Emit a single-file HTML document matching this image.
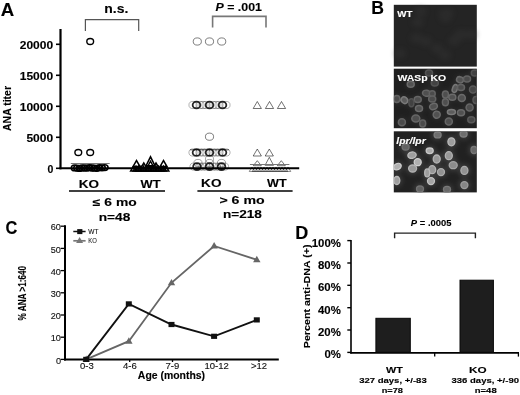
<!DOCTYPE html>
<html><head><meta charset="utf-8"><style>
html,body{margin:0;padding:0;background:#fff;}
body{width:520px;height:395px;overflow:hidden;}
svg{display:block;font-family:"Liberation Sans", sans-serif;filter:grayscale(1);}
</style></head><body>
<svg width="520" height="395" viewBox="0 0 520 395">
<rect width="520" height="395" fill="#fff"/>
<text transform="translate(0.80,15.70) scale(0.996,1)" font-size="18.7" fill="#000" stroke="#000" stroke-width="0.12" style="font-weight:bold;">A</text><line x1="60.5" y1="29" x2="60.5" y2="169.3" stroke="#000" stroke-width="2.2"/><line x1="56" y1="44.3" x2="60.5" y2="44.3" stroke="#000" stroke-width="1.6"/><text transform="translate(19.72,48.90) scale(1.200,1)" font-size="10" fill="#000" stroke="#000" stroke-width="0.12" style="font-weight:bold;">20000</text><line x1="56" y1="75.3" x2="60.5" y2="75.3" stroke="#000" stroke-width="1.6"/><text transform="translate(19.72,79.90) scale(1.200,1)" font-size="10" fill="#000" stroke="#000" stroke-width="0.12" style="font-weight:bold;">15000</text><line x1="56" y1="106.3" x2="60.5" y2="106.3" stroke="#000" stroke-width="1.6"/><text transform="translate(19.72,110.90) scale(1.200,1)" font-size="10" fill="#000" stroke="#000" stroke-width="0.12" style="font-weight:bold;">10000</text><line x1="56" y1="137.3" x2="60.5" y2="137.3" stroke="#000" stroke-width="1.6"/><text transform="translate(26.38,141.90) scale(1.200,1)" font-size="10" fill="#000" stroke="#000" stroke-width="0.12" style="font-weight:bold;">5000</text><line x1="56" y1="168.3" x2="60.5" y2="168.3" stroke="#000" stroke-width="1.6"/><text transform="translate(47.48,172.70) scale(1.053,1)" font-size="10" fill="#000" stroke="#000" stroke-width="0.12" style="font-weight:bold;">0</text><text transform="translate(10.70,130.99) rotate(-90) scale(0.953,1.050)" font-size="11" fill="#000" stroke="#000" stroke-width="0.12" style="font-weight:bold;">ANA titer</text><line x1="59.5" y1="168.3" x2="299.2" y2="168.3" stroke="#000" stroke-width="2"/><path d="M85.4,31 V19.6 H138.7 V31" stroke="#555" stroke-width="1.2" fill="none" /><path d="M212.6,27.6 V16.4 H266 V27.6" stroke="#777" stroke-width="1.6" fill="none" /><text transform="translate(104.29,13.00) scale(1.075,1)" font-size="13" fill="#000" stroke="#000" stroke-width="0.12" style="font-weight:bold;">n.s.</text><text transform="translate(215.49,10.50) scale(1.049,1)" font-size="11.8" fill="#000" stroke="#000" stroke-width="0.12" style=""><tspan style="font-weight:bold;font-style:italic;">P</tspan><tspan style="font-weight:bold;"> = .001</tspan></text><text transform="translate(78.70,187.60) scale(1.205,1)" font-size="11.2" fill="#000" stroke="#000" stroke-width="0.12" style="font-weight:bold;">KO</text><text transform="translate(140.60,187.60) scale(1.156,1)" font-size="11.2" fill="#000" stroke="#000" stroke-width="0.12" style="font-weight:bold;">WT</text><text transform="translate(201.09,187.20) scale(1.212,1)" font-size="11.2" fill="#000" stroke="#000" stroke-width="0.12" style="font-weight:bold;">KO</text><text transform="translate(267.00,187.20) scale(1.127,1)" font-size="11.2" fill="#000" stroke="#000" stroke-width="0.12" style="font-weight:bold;">WT</text><line x1="69" y1="191.1" x2="165" y2="191.1" stroke="#000" stroke-width="1.5"/><line x1="197.4" y1="191.0" x2="292.6" y2="191.0" stroke="#000" stroke-width="1.5"/><text transform="translate(92.87,206.00) scale(1.309,1)" font-size="10.6" fill="#000" stroke="#000" stroke-width="0.12" style="font-weight:bold;">≤ 6 mo</text><text transform="translate(98.69,220.60) scale(1.295,1)" font-size="10.6" fill="#000" stroke="#000" stroke-width="0.12" style="font-weight:bold;">n=48</text><text transform="translate(219.40,204.30) scale(1.336,1)" font-size="10.6" fill="#000" stroke="#000" stroke-width="0.12" style="font-weight:bold;">&gt; 6 mo</text><text transform="translate(222.90,218.10) scale(1.287,1)" font-size="10.6" fill="#000" stroke="#000" stroke-width="0.12" style="font-weight:bold;">n=218</text><ellipse cx="90.20" cy="41.50" rx="3.39" ry="3.0" stroke="#000" stroke-width="1.4" fill="none" stroke-opacity="1"/><ellipse cx="78.30" cy="152.50" rx="3.39" ry="3.0" stroke="#000" stroke-width="1.4" fill="none" stroke-opacity="1"/><ellipse cx="90.20" cy="152.50" rx="3.39" ry="3.0" stroke="#000" stroke-width="1.4" fill="none" stroke-opacity="1"/><line x1="70.8" y1="163.5" x2="109.7" y2="163.5" stroke="#777" stroke-width="1"/><ellipse cx="74.60" cy="167.95" rx="3.28" ry="2.9" stroke="#000" stroke-width="1.5" fill="none" stroke-opacity="1"/><ellipse cx="77.00" cy="168.06" rx="3.28" ry="2.9" stroke="#000" stroke-width="1.5" fill="none" stroke-opacity="1"/><ellipse cx="79.50" cy="168.42" rx="3.28" ry="2.9" stroke="#000" stroke-width="1.5" fill="none" stroke-opacity="1"/><ellipse cx="82.00" cy="167.97" rx="3.28" ry="2.9" stroke="#000" stroke-width="1.5" fill="none" stroke-opacity="1"/><ellipse cx="84.50" cy="168.01" rx="3.28" ry="2.9" stroke="#000" stroke-width="1.5" fill="none" stroke-opacity="1"/><ellipse cx="87.00" cy="168.09" rx="3.28" ry="2.9" stroke="#000" stroke-width="1.5" fill="none" stroke-opacity="1"/><ellipse cx="89.50" cy="167.68" rx="3.28" ry="2.9" stroke="#000" stroke-width="1.5" fill="none" stroke-opacity="1"/><ellipse cx="92.00" cy="168.01" rx="3.28" ry="2.9" stroke="#000" stroke-width="1.5" fill="none" stroke-opacity="1"/><ellipse cx="94.50" cy="168.13" rx="3.28" ry="2.9" stroke="#000" stroke-width="1.5" fill="none" stroke-opacity="1"/><ellipse cx="97.00" cy="168.29" rx="3.28" ry="2.9" stroke="#000" stroke-width="1.5" fill="none" stroke-opacity="1"/><ellipse cx="99.50" cy="167.59" rx="3.28" ry="2.9" stroke="#000" stroke-width="1.5" fill="none" stroke-opacity="1"/><ellipse cx="102.00" cy="167.80" rx="3.28" ry="2.9" stroke="#000" stroke-width="1.5" fill="none" stroke-opacity="1"/><ellipse cx="104.80" cy="167.59" rx="3.28" ry="2.9" stroke="#000" stroke-width="1.5" fill="none" stroke-opacity="1"/><path d="M133.00,166.60 L136.50,160.60 L140.00,166.60 Z" stroke="#000" stroke-width="1.5" fill="none" stroke-opacity="1" stroke-linejoin="miter"/><path d="M146.00,165.80 L150.50,156.80 L155.00,165.80 Z" stroke="#000" stroke-width="1.5" fill="none" stroke-opacity="1" stroke-linejoin="miter"/><path d="M160.00,166.60 L163.50,160.60 L167.00,166.60 Z" stroke="#000" stroke-width="1.5" fill="none" stroke-opacity="1" stroke-linejoin="miter"/><path d="M140.80,168.00 L143.80,163.00 L146.80,168.00 Z" stroke="#000" stroke-width="1.5" fill="none" stroke-opacity="1" stroke-linejoin="miter"/><path d="M153.00,168.00 L156.00,163.00 L159.00,168.00 Z" stroke="#000" stroke-width="1.5" fill="none" stroke-opacity="1" stroke-linejoin="miter"/><path d="M147.50,166.75 L150.50,161.25 L153.50,166.75 Z" stroke="#000" stroke-width="1.5" fill="none" stroke-opacity="1" stroke-linejoin="miter"/><path d="M130.70,170.90 L133.50,166.30 L136.30,170.90 Z" stroke="#000" stroke-width="1.5" fill="none" stroke-opacity="1" stroke-linejoin="miter"/><path d="M133.20,170.90 L136.00,166.30 L138.80,170.90 Z" stroke="#000" stroke-width="1.5" fill="none" stroke-opacity="1" stroke-linejoin="miter"/><path d="M135.70,170.90 L138.50,166.30 L141.30,170.90 Z" stroke="#000" stroke-width="1.5" fill="none" stroke-opacity="1" stroke-linejoin="miter"/><path d="M138.20,170.90 L141.00,166.30 L143.80,170.90 Z" stroke="#000" stroke-width="1.5" fill="none" stroke-opacity="1" stroke-linejoin="miter"/><path d="M140.70,170.90 L143.50,166.30 L146.30,170.90 Z" stroke="#000" stroke-width="1.5" fill="none" stroke-opacity="1" stroke-linejoin="miter"/><path d="M143.20,170.90 L146.00,166.30 L148.80,170.90 Z" stroke="#000" stroke-width="1.5" fill="none" stroke-opacity="1" stroke-linejoin="miter"/><path d="M145.70,170.90 L148.50,166.30 L151.30,170.90 Z" stroke="#000" stroke-width="1.5" fill="none" stroke-opacity="1" stroke-linejoin="miter"/><path d="M148.20,170.90 L151.00,166.30 L153.80,170.90 Z" stroke="#000" stroke-width="1.5" fill="none" stroke-opacity="1" stroke-linejoin="miter"/><path d="M150.70,170.90 L153.50,166.30 L156.30,170.90 Z" stroke="#000" stroke-width="1.5" fill="none" stroke-opacity="1" stroke-linejoin="miter"/><path d="M153.20,170.90 L156.00,166.30 L158.80,170.90 Z" stroke="#000" stroke-width="1.5" fill="none" stroke-opacity="1" stroke-linejoin="miter"/><path d="M155.70,170.90 L158.50,166.30 L161.30,170.90 Z" stroke="#000" stroke-width="1.5" fill="none" stroke-opacity="1" stroke-linejoin="miter"/><path d="M158.20,170.90 L161.00,166.30 L163.80,170.90 Z" stroke="#000" stroke-width="1.5" fill="none" stroke-opacity="1" stroke-linejoin="miter"/><path d="M160.70,170.90 L163.50,166.30 L166.30,170.90 Z" stroke="#000" stroke-width="1.5" fill="none" stroke-opacity="1" stroke-linejoin="miter"/><path d="M163.20,170.90 L166.00,166.30 L168.80,170.90 Z" stroke="#000" stroke-width="1.5" fill="none" stroke-opacity="1" stroke-linejoin="miter"/><ellipse cx="197.30" cy="41.50" rx="4.07" ry="3.6" stroke="#000" stroke-width="1.0" fill="none" stroke-opacity="0.5"/><ellipse cx="209.50" cy="41.50" rx="4.07" ry="3.6" stroke="#000" stroke-width="1.0" fill="none" stroke-opacity="0.5"/><ellipse cx="221.70" cy="41.50" rx="4.07" ry="3.6" stroke="#000" stroke-width="1.0" fill="none" stroke-opacity="0.5"/><ellipse cx="193.00" cy="105.00" rx="4.07" ry="3.6" stroke="#000" stroke-width="1.0" fill="none" stroke-opacity="0.3"/><ellipse cx="200.00" cy="105.00" rx="4.07" ry="3.6" stroke="#000" stroke-width="1.0" fill="none" stroke-opacity="0.3"/><ellipse cx="203.00" cy="105.00" rx="4.07" ry="3.6" stroke="#000" stroke-width="1.0" fill="none" stroke-opacity="0.3"/><ellipse cx="206.00" cy="105.00" rx="4.07" ry="3.6" stroke="#000" stroke-width="1.0" fill="none" stroke-opacity="0.3"/><ellipse cx="213.00" cy="105.00" rx="4.07" ry="3.6" stroke="#000" stroke-width="1.0" fill="none" stroke-opacity="0.3"/><ellipse cx="216.00" cy="105.00" rx="4.07" ry="3.6" stroke="#000" stroke-width="1.0" fill="none" stroke-opacity="0.3"/><ellipse cx="219.00" cy="105.00" rx="4.07" ry="3.6" stroke="#000" stroke-width="1.0" fill="none" stroke-opacity="0.3"/><ellipse cx="226.00" cy="105.00" rx="4.07" ry="3.6" stroke="#000" stroke-width="1.0" fill="none" stroke-opacity="0.3"/><ellipse cx="196.50" cy="105.00" rx="3.84" ry="3.4" stroke="#000" stroke-width="1.8" fill="none" stroke-opacity="0.85"/><ellipse cx="209.50" cy="105.00" rx="3.84" ry="3.4" stroke="#000" stroke-width="1.8" fill="none" stroke-opacity="0.85"/><ellipse cx="222.50" cy="105.00" rx="3.84" ry="3.4" stroke="#000" stroke-width="1.8" fill="none" stroke-opacity="0.85"/><ellipse cx="209.50" cy="136.70" rx="4.07" ry="3.6" stroke="#000" stroke-width="1.0" fill="none" stroke-opacity="0.5"/><line x1="190" y1="149.8" x2="229" y2="149.8" stroke="#999" stroke-width="1.6"/><ellipse cx="193.00" cy="152.50" rx="4.07" ry="3.6" stroke="#000" stroke-width="1.0" fill="none" stroke-opacity="0.3"/><ellipse cx="200.00" cy="152.50" rx="4.07" ry="3.6" stroke="#000" stroke-width="1.0" fill="none" stroke-opacity="0.3"/><ellipse cx="203.00" cy="152.50" rx="4.07" ry="3.6" stroke="#000" stroke-width="1.0" fill="none" stroke-opacity="0.3"/><ellipse cx="206.00" cy="152.50" rx="4.07" ry="3.6" stroke="#000" stroke-width="1.0" fill="none" stroke-opacity="0.3"/><ellipse cx="213.00" cy="152.50" rx="4.07" ry="3.6" stroke="#000" stroke-width="1.0" fill="none" stroke-opacity="0.3"/><ellipse cx="216.00" cy="152.50" rx="4.07" ry="3.6" stroke="#000" stroke-width="1.0" fill="none" stroke-opacity="0.3"/><ellipse cx="219.00" cy="152.50" rx="4.07" ry="3.6" stroke="#000" stroke-width="1.0" fill="none" stroke-opacity="0.3"/><ellipse cx="226.00" cy="152.50" rx="4.07" ry="3.6" stroke="#000" stroke-width="1.0" fill="none" stroke-opacity="0.3"/><ellipse cx="196.50" cy="152.50" rx="3.84" ry="3.4" stroke="#000" stroke-width="1.8" fill="none" stroke-opacity="0.85"/><ellipse cx="209.50" cy="152.50" rx="3.84" ry="3.4" stroke="#000" stroke-width="1.8" fill="none" stroke-opacity="0.85"/><ellipse cx="222.50" cy="152.50" rx="3.84" ry="3.4" stroke="#000" stroke-width="1.8" fill="none" stroke-opacity="0.85"/><ellipse cx="209.50" cy="159.20" rx="4.07" ry="3.6" stroke="#000" stroke-width="1.0" fill="none" stroke-opacity="0.35"/><ellipse cx="198.00" cy="163.00" rx="4.07" ry="3.6" stroke="#000" stroke-width="1.0" fill="none" stroke-opacity="0.35"/><ellipse cx="209.50" cy="163.00" rx="4.07" ry="3.6" stroke="#000" stroke-width="1.0" fill="none" stroke-opacity="0.35"/><ellipse cx="221.50" cy="163.00" rx="4.07" ry="3.6" stroke="#000" stroke-width="1.0" fill="none" stroke-opacity="0.35"/><ellipse cx="194.00" cy="166.60" rx="4.07" ry="3.6" stroke="#000" stroke-width="1.0" fill="none" stroke-opacity="0.3"/><ellipse cx="200.00" cy="166.60" rx="4.07" ry="3.6" stroke="#000" stroke-width="1.0" fill="none" stroke-opacity="0.3"/><ellipse cx="203.00" cy="166.60" rx="4.07" ry="3.6" stroke="#000" stroke-width="1.0" fill="none" stroke-opacity="0.3"/><ellipse cx="206.00" cy="166.60" rx="4.07" ry="3.6" stroke="#000" stroke-width="1.0" fill="none" stroke-opacity="0.3"/><ellipse cx="213.00" cy="166.60" rx="4.07" ry="3.6" stroke="#000" stroke-width="1.0" fill="none" stroke-opacity="0.3"/><ellipse cx="216.00" cy="166.60" rx="4.07" ry="3.6" stroke="#000" stroke-width="1.0" fill="none" stroke-opacity="0.3"/><ellipse cx="219.00" cy="166.60" rx="4.07" ry="3.6" stroke="#000" stroke-width="1.0" fill="none" stroke-opacity="0.3"/><ellipse cx="224.50" cy="166.60" rx="4.07" ry="3.6" stroke="#000" stroke-width="1.0" fill="none" stroke-opacity="0.3"/><ellipse cx="197.00" cy="166.60" rx="3.84" ry="3.4" stroke="#000" stroke-width="1.8" fill="none" stroke-opacity="0.85"/><ellipse cx="209.50" cy="166.60" rx="3.84" ry="3.4" stroke="#000" stroke-width="1.8" fill="none" stroke-opacity="0.85"/><ellipse cx="221.50" cy="166.60" rx="3.84" ry="3.4" stroke="#000" stroke-width="1.8" fill="none" stroke-opacity="0.85"/><path d="M253.20,108.50 L257.30,101.50 L261.40,108.50 Z" stroke="#000" stroke-width="1.0" fill="none" stroke-opacity="0.55" stroke-linejoin="miter"/><path d="M265.40,108.50 L269.50,101.50 L273.60,108.50 Z" stroke="#000" stroke-width="1.0" fill="none" stroke-opacity="0.55" stroke-linejoin="miter"/><path d="M277.40,108.50 L281.50,101.50 L285.60,108.50 Z" stroke="#000" stroke-width="1.0" fill="none" stroke-opacity="0.55" stroke-linejoin="miter"/><path d="M253.20,156.00 L257.30,149.00 L261.40,156.00 Z" stroke="#000" stroke-width="1.0" fill="none" stroke-opacity="0.55" stroke-linejoin="miter"/><path d="M265.20,156.00 L269.30,149.00 L273.40,156.00 Z" stroke="#000" stroke-width="1.0" fill="none" stroke-opacity="0.55" stroke-linejoin="miter"/><path d="M265.05,165.30 L269.30,157.30 L273.55,165.30 Z" stroke="#000" stroke-width="1.0" fill="none" stroke-opacity="0.55" stroke-linejoin="miter"/><path d="M253.30,165.70 L257.30,160.70 L261.30,165.70 Z" stroke="#000" stroke-width="1.0" fill="none" stroke-opacity="0.55" stroke-linejoin="miter"/><path d="M277.30,165.70 L281.30,160.70 L285.30,165.70 Z" stroke="#000" stroke-width="1.0" fill="none" stroke-opacity="0.55" stroke-linejoin="miter"/><line x1="249.9" y1="164.5" x2="289.4" y2="164.5" stroke="#777" stroke-width="1"/><path d="M249.25,171.45 L252.00,166.95 L254.75,171.45 Z" stroke="#000" stroke-width="1.0" fill="none" stroke-opacity="0.45" stroke-linejoin="miter"/><path d="M252.25,171.45 L255.00,166.95 L257.75,171.45 Z" stroke="#000" stroke-width="1.0" fill="none" stroke-opacity="0.45" stroke-linejoin="miter"/><path d="M255.25,171.45 L258.00,166.95 L260.75,171.45 Z" stroke="#000" stroke-width="1.0" fill="none" stroke-opacity="0.45" stroke-linejoin="miter"/><path d="M258.25,171.45 L261.00,166.95 L263.75,171.45 Z" stroke="#000" stroke-width="1.0" fill="none" stroke-opacity="0.45" stroke-linejoin="miter"/><path d="M261.25,171.45 L264.00,166.95 L266.75,171.45 Z" stroke="#000" stroke-width="1.0" fill="none" stroke-opacity="0.45" stroke-linejoin="miter"/><path d="M264.25,171.45 L267.00,166.95 L269.75,171.45 Z" stroke="#000" stroke-width="1.0" fill="none" stroke-opacity="0.45" stroke-linejoin="miter"/><path d="M267.25,171.45 L270.00,166.95 L272.75,171.45 Z" stroke="#000" stroke-width="1.0" fill="none" stroke-opacity="0.45" stroke-linejoin="miter"/><path d="M270.25,171.45 L273.00,166.95 L275.75,171.45 Z" stroke="#000" stroke-width="1.0" fill="none" stroke-opacity="0.45" stroke-linejoin="miter"/><path d="M273.25,171.45 L276.00,166.95 L278.75,171.45 Z" stroke="#000" stroke-width="1.0" fill="none" stroke-opacity="0.45" stroke-linejoin="miter"/><path d="M276.25,171.45 L279.00,166.95 L281.75,171.45 Z" stroke="#000" stroke-width="1.0" fill="none" stroke-opacity="0.45" stroke-linejoin="miter"/><path d="M279.25,171.45 L282.00,166.95 L284.75,171.45 Z" stroke="#000" stroke-width="1.0" fill="none" stroke-opacity="0.45" stroke-linejoin="miter"/><path d="M282.25,171.45 L285.00,166.95 L287.75,171.45 Z" stroke="#000" stroke-width="1.0" fill="none" stroke-opacity="0.45" stroke-linejoin="miter"/><path d="M285.25,171.45 L288.00,166.95 L290.75,171.45 Z" stroke="#000" stroke-width="1.0" fill="none" stroke-opacity="0.45" stroke-linejoin="miter"/><text transform="translate(371.14,14.40) scale(0.964,1)" font-size="18.3" fill="#000" stroke="#000" stroke-width="0.12" style="font-weight:bold;">B</text><defs>
<filter id="bl" x="-50%" y="-50%" width="200%" height="200%"><feGaussianBlur stdDeviation="0.75"/></filter>
<filter id="bl2" x="-50%" y="-50%" width="200%" height="200%"><feGaussianBlur stdDeviation="2.5"/></filter>
<radialGradient id="ko"><stop offset="0" stop-color="#5a5a5a"/><stop offset="0.6" stop-color="#6a6a6a"/><stop offset="1" stop-color="#7a7a7a"/></radialGradient>
<radialGradient id="lp"><stop offset="0" stop-color="#b0b0b0"/><stop offset="1" stop-color="#9a9a9a"/></radialGradient>
</defs><rect x="393.8" y="4.8" width="83.0" height="61.8" fill="#242424"/><rect x="393.8" y="68.7" width="83.0" height="59.5" fill="#1f1f1f"/><rect x="393.8" y="131.3" width="83.0" height="61.1" fill="#212121"/><g filter="url(#bl2)" opacity="0.3"><ellipse cx="416.2" cy="38.3" rx="6" ry="5" fill="#3a3a3a"/><ellipse cx="425.8" cy="41.4" rx="6" ry="5" fill="#3a3a3a"/><ellipse cx="444.5" cy="13.4" rx="6" ry="5" fill="#3a3a3a"/><ellipse cx="399.8" cy="53.5" rx="6" ry="5" fill="#3a3a3a"/><ellipse cx="417.7" cy="22.2" rx="6" ry="5" fill="#3a3a3a"/><ellipse cx="471.5" cy="34.5" rx="6" ry="5" fill="#3a3a3a"/><ellipse cx="459.9" cy="34.8" rx="6" ry="5" fill="#3a3a3a"/><ellipse cx="445.5" cy="17.8" rx="6" ry="5" fill="#3a3a3a"/><ellipse cx="445.1" cy="55.1" rx="6" ry="5" fill="#3a3a3a"/><ellipse cx="437.0" cy="48.5" rx="6" ry="5" fill="#3a3a3a"/><ellipse cx="447.8" cy="13.3" rx="6" ry="5" fill="#3a3a3a"/><ellipse cx="454.2" cy="40.7" rx="6" ry="5" fill="#3a3a3a"/><ellipse cx="420.8" cy="11.6" rx="6" ry="5" fill="#3a3a3a"/><ellipse cx="462.0" cy="34.6" rx="6" ry="5" fill="#3a3a3a"/></g><svg x="393.8" y="68.7" width="83.0" height="59.499999999999986" viewBox="393.8 68.7 83.0 59.499999999999986" overflow="hidden"><g filter="url(#bl2)" opacity="0.35"><ellipse cx="410.7" cy="84.3" rx="5.5" ry="5.0" fill="#444"/><ellipse cx="429" cy="73" rx="5.5" ry="5.0" fill="#444"/><ellipse cx="434.8" cy="83" rx="5.5" ry="5.0" fill="#444"/><ellipse cx="460" cy="79.8" rx="5.5" ry="5.0" fill="#444"/><ellipse cx="467" cy="79" rx="5.5" ry="5.0" fill="#444"/><ellipse cx="474.8" cy="73" rx="5.5" ry="5.0" fill="#444"/><ellipse cx="455" cy="88.5" rx="4.5" ry="6.0" fill="#444"/><ellipse cx="461" cy="87.6" rx="5.5" ry="5.0" fill="#444"/><ellipse cx="473" cy="89.4" rx="5.5" ry="5.5" fill="#444"/><ellipse cx="426.5" cy="93.2" rx="6.0" ry="5.0" fill="#444"/><ellipse cx="432.2" cy="93.8" rx="5.0" ry="5.0" fill="#444"/><ellipse cx="445.4" cy="94.6" rx="5.0" ry="5.5" fill="#444"/><ellipse cx="452.3" cy="97.2" rx="5.5" ry="5.0" fill="#444"/><ellipse cx="461.8" cy="98" rx="5.5" ry="5.5" fill="#444"/><ellipse cx="396.8" cy="98.9" rx="5.0" ry="5.5" fill="#444"/><ellipse cx="404.4" cy="100.2" rx="5.5" ry="5.0" fill="#444"/><ellipse cx="417.7" cy="99.5" rx="5.5" ry="5.0" fill="#444"/><ellipse cx="432.2" cy="98.9" rx="5.5" ry="5.0" fill="#444"/><ellipse cx="445.4" cy="102.3" rx="5.0" ry="5.5" fill="#444"/><ellipse cx="411.4" cy="102.7" rx="4.5" ry="6.0" fill="#444"/><ellipse cx="419" cy="108.4" rx="5.5" ry="5.0" fill="#444"/><ellipse cx="433.5" cy="106.5" rx="6.0" ry="5.0" fill="#444"/><ellipse cx="451.4" cy="111.9" rx="6.0" ry="4.5" fill="#444"/><ellipse cx="461" cy="112.7" rx="5.5" ry="5.0" fill="#444"/><ellipse cx="469.6" cy="107.5" rx="5.5" ry="5.5" fill="#444"/><ellipse cx="436.7" cy="114.7" rx="5.5" ry="5.5" fill="#444"/><ellipse cx="415.8" cy="118.5" rx="6.0" ry="5.5" fill="#444"/><ellipse cx="401.9" cy="122.3" rx="5.5" ry="5.5" fill="#444"/><ellipse cx="422.7" cy="123.6" rx="5.0" ry="5.5" fill="#444"/><ellipse cx="448.8" cy="121.4" rx="5.5" ry="5.5" fill="#444"/><ellipse cx="471.3" cy="119.7" rx="5.5" ry="5.0" fill="#444"/><ellipse cx="476" cy="100" rx="5.0" ry="5.5" fill="#444"/></g><g filter="url(#bl)"><ellipse cx="410.7" cy="84.3" rx="3.5" ry="3.0" transform="rotate(0 410.7 84.3)" fill="#515151" stroke="#6a6a6a" stroke-width="1.5"/><ellipse cx="429" cy="73" rx="3.5" ry="3.0" transform="rotate(0 429 73)" fill="#424242" stroke="#535353" stroke-width="1.5"/><ellipse cx="434.8" cy="83" rx="3.5" ry="3.0" transform="rotate(0 434.8 83)" fill="#424242" stroke="#535353" stroke-width="1.5"/><ellipse cx="460" cy="79.8" rx="3.5" ry="3.0" transform="rotate(20 460 79.8)" fill="#515151" stroke="#6a6a6a" stroke-width="1.5"/><ellipse cx="467" cy="79" rx="3.5" ry="3.0" transform="rotate(0 467 79)" fill="#4c4c4c" stroke="#626262" stroke-width="1.5"/><ellipse cx="474.8" cy="73" rx="3.5" ry="3.0" transform="rotate(0 474.8 73)" fill="#424242" stroke="#535353" stroke-width="1.5"/><ellipse cx="455" cy="88.5" rx="2.5" ry="4.0" transform="rotate(20 455 88.5)" fill="#595959" stroke="#767676" stroke-width="1.5"/><ellipse cx="461" cy="87.6" rx="3.5" ry="3.0" transform="rotate(0 461 87.6)" fill="#4c4c4c" stroke="#626262" stroke-width="1.5"/><ellipse cx="473" cy="89.4" rx="3.5" ry="3.5" transform="rotate(0 473 89.4)" fill="#474747" stroke="#5a5a5a" stroke-width="1.5"/><ellipse cx="426.5" cy="93.2" rx="4.0" ry="3.0" transform="rotate(10 426.5 93.2)" fill="#4f4f4f" stroke="#666666" stroke-width="1.5"/><ellipse cx="432.2" cy="93.8" rx="3.0" ry="3.0" transform="rotate(0 432.2 93.8)" fill="#4c4c4c" stroke="#626262" stroke-width="1.5"/><ellipse cx="445.4" cy="94.6" rx="3.0" ry="3.5" transform="rotate(0 445.4 94.6)" fill="#4f4f4f" stroke="#666666" stroke-width="1.5"/><ellipse cx="452.3" cy="97.2" rx="3.5" ry="3.0" transform="rotate(0 452.3 97.2)" fill="#515151" stroke="#6a6a6a" stroke-width="1.5"/><ellipse cx="461.8" cy="98" rx="3.5" ry="3.5" transform="rotate(0 461.8 98)" fill="#515151" stroke="#6a6a6a" stroke-width="1.5"/><ellipse cx="396.8" cy="98.9" rx="3.0" ry="3.5" transform="rotate(0 396.8 98.9)" fill="#4c4c4c" stroke="#626262" stroke-width="1.5"/><ellipse cx="404.4" cy="100.2" rx="3.5" ry="3.0" transform="rotate(40 404.4 100.2)" fill="#5c5c5c" stroke="#7a7a7a" stroke-width="1.5"/><ellipse cx="417.7" cy="99.5" rx="3.5" ry="3.0" transform="rotate(0 417.7 99.5)" fill="#4f4f4f" stroke="#666666" stroke-width="1.5"/><ellipse cx="432.2" cy="98.9" rx="3.5" ry="3.0" transform="rotate(0 432.2 98.9)" fill="#4c4c4c" stroke="#626262" stroke-width="1.5"/><ellipse cx="445.4" cy="102.3" rx="3.0" ry="3.5" transform="rotate(0 445.4 102.3)" fill="#4f4f4f" stroke="#666666" stroke-width="1.5"/><ellipse cx="411.4" cy="102.7" rx="2.5" ry="4.0" transform="rotate(0 411.4 102.7)" fill="#424242" stroke="#535353" stroke-width="1.5"/><ellipse cx="419" cy="108.4" rx="3.5" ry="3.0" transform="rotate(0 419 108.4)" fill="#515151" stroke="#6a6a6a" stroke-width="1.5"/><ellipse cx="433.5" cy="106.5" rx="4.0" ry="3.0" transform="rotate(-20 433.5 106.5)" fill="#515151" stroke="#6a6a6a" stroke-width="1.5"/><ellipse cx="451.4" cy="111.9" rx="4.0" ry="2.5" transform="rotate(0 451.4 111.9)" fill="#5c5c5c" stroke="#7a7a7a" stroke-width="1.5"/><ellipse cx="461" cy="112.7" rx="3.5" ry="3.0" transform="rotate(0 461 112.7)" fill="#515151" stroke="#6a6a6a" stroke-width="1.5"/><ellipse cx="469.6" cy="107.5" rx="3.5" ry="3.5" transform="rotate(0 469.6 107.5)" fill="#4f4f4f" stroke="#666666" stroke-width="1.5"/><ellipse cx="436.7" cy="114.7" rx="3.5" ry="3.5" transform="rotate(30 436.7 114.7)" fill="#515151" stroke="#6a6a6a" stroke-width="1.5"/><ellipse cx="415.8" cy="118.5" rx="4.0" ry="3.5" transform="rotate(0 415.8 118.5)" fill="#4f4f4f" stroke="#666666" stroke-width="1.5"/><ellipse cx="401.9" cy="122.3" rx="3.5" ry="3.5" transform="rotate(0 401.9 122.3)" fill="#4c4c4c" stroke="#626262" stroke-width="1.5"/><ellipse cx="422.7" cy="123.6" rx="3.0" ry="3.5" transform="rotate(0 422.7 123.6)" fill="#4c4c4c" stroke="#626262" stroke-width="1.5"/><ellipse cx="448.8" cy="121.4" rx="3.5" ry="3.5" transform="rotate(0 448.8 121.4)" fill="#4f4f4f" stroke="#666666" stroke-width="1.5"/><ellipse cx="471.3" cy="119.7" rx="3.5" ry="3.0" transform="rotate(0 471.3 119.7)" fill="#474747" stroke="#5a5a5a" stroke-width="1.5"/><ellipse cx="476" cy="100" rx="3.0" ry="3.5" transform="rotate(0 476 100)" fill="#474747" stroke="#5a5a5a" stroke-width="1.5"/></g></svg><svg x="393.8" y="131.3" width="83.0" height="61.099999999999994" viewBox="393.8 131.3 83.0 61.099999999999994" overflow="hidden"><g filter="url(#bl2)" opacity="0.55"><ellipse cx="437.6" cy="134.9" rx="6.0" ry="5.5" fill="#555"/><ellipse cx="463.6" cy="134" rx="6.0" ry="5.5" fill="#555"/><ellipse cx="451.4" cy="141.8" rx="6.0" ry="6.5" fill="#555"/><ellipse cx="429.7" cy="150.8" rx="6.0" ry="5.2" fill="#555"/><ellipse cx="412" cy="155.2" rx="6.8" ry="5.8" fill="#555"/><ellipse cx="448.8" cy="155.7" rx="6.0" ry="6.5" fill="#555"/><ellipse cx="436.7" cy="159" rx="6.0" ry="6.5" fill="#555"/><ellipse cx="417.7" cy="162.2" rx="6.0" ry="6.0" fill="#555"/><ellipse cx="397.4" cy="166.6" rx="6.5" ry="5.5" fill="#555"/><ellipse cx="412.6" cy="168.5" rx="6.5" ry="6.0" fill="#555"/><ellipse cx="432.2" cy="169.7" rx="6.0" ry="6.5" fill="#555"/><ellipse cx="427.2" cy="172.9" rx="5.0" ry="6.5" fill="#555"/><ellipse cx="441" cy="172.1" rx="6.0" ry="6.0" fill="#555"/><ellipse cx="453.2" cy="165.2" rx="6.5" ry="6.0" fill="#555"/><ellipse cx="464.4" cy="170.4" rx="6.0" ry="6.5" fill="#555"/><ellipse cx="396.8" cy="180.5" rx="5.5" ry="6.5" fill="#555"/><ellipse cx="431" cy="181.1" rx="6.0" ry="6.0" fill="#555"/><ellipse cx="464.4" cy="185.1" rx="6.0" ry="6.0" fill="#555"/><ellipse cx="405.6" cy="147" rx="6.0" ry="5.5" fill="#555"/><ellipse cx="447" cy="189.4" rx="6.0" ry="5.5" fill="#555"/><ellipse cx="474" cy="150" rx="5.5" ry="6.0" fill="#555"/><ellipse cx="420" cy="189" rx="6.0" ry="5.5" fill="#555"/></g><g filter="url(#bl)"><ellipse cx="437.6" cy="134.9" rx="3.5" ry="3.0" transform="rotate(0 437.6 134.9)" fill="#6e6e6e" stroke="#808080" stroke-width="1.3"/><ellipse cx="463.6" cy="134" rx="3.5" ry="3.0" transform="rotate(0 463.6 134)" fill="#6e6e6e" stroke="#808080" stroke-width="1.3"/><ellipse cx="451.4" cy="141.8" rx="3.5" ry="4.0" transform="rotate(0 451.4 141.8)" fill="#9e9e9e" stroke="#bababa" stroke-width="1.3"/><ellipse cx="429.7" cy="150.8" rx="3.5" ry="2.8" transform="rotate(0 429.7 150.8)" fill="#aaaaaa" stroke="#c8c8c8" stroke-width="1.3"/><ellipse cx="412" cy="155.2" rx="4.2" ry="3.2" transform="rotate(-10 412 155.2)" fill="#9e9e9e" stroke="#bababa" stroke-width="1.3"/><ellipse cx="448.8" cy="155.7" rx="3.5" ry="4.0" transform="rotate(0 448.8 155.7)" fill="#989898" stroke="#b3b3b3" stroke-width="1.3"/><ellipse cx="436.7" cy="159" rx="3.5" ry="4.0" transform="rotate(0 436.7 159)" fill="#989898" stroke="#b3b3b3" stroke-width="1.3"/><ellipse cx="417.7" cy="162.2" rx="3.5" ry="3.5" transform="rotate(0 417.7 162.2)" fill="#b0b0b0" stroke="#d0d0d0" stroke-width="1.3"/><ellipse cx="397.4" cy="166.6" rx="4.0" ry="3.0" transform="rotate(-30 397.4 166.6)" fill="#b0b0b0" stroke="#d0d0d0" stroke-width="1.3"/><ellipse cx="412.6" cy="168.5" rx="4.0" ry="3.5" transform="rotate(0 412.6 168.5)" fill="#989898" stroke="#b3b3b3" stroke-width="1.3"/><ellipse cx="432.2" cy="169.7" rx="3.5" ry="4.0" transform="rotate(0 432.2 169.7)" fill="#989898" stroke="#b3b3b3" stroke-width="1.3"/><ellipse cx="427.2" cy="172.9" rx="2.5" ry="4.0" transform="rotate(0 427.2 172.9)" fill="#9e9e9e" stroke="#bababa" stroke-width="1.3"/><ellipse cx="441" cy="172.1" rx="3.5" ry="3.5" transform="rotate(0 441 172.1)" fill="#929292" stroke="#acacac" stroke-width="1.3"/><ellipse cx="453.2" cy="165.2" rx="4.0" ry="3.5" transform="rotate(0 453.2 165.2)" fill="#8c8c8c" stroke="#a4a4a4" stroke-width="1.3"/><ellipse cx="464.4" cy="170.4" rx="3.5" ry="4.0" transform="rotate(0 464.4 170.4)" fill="#929292" stroke="#acacac" stroke-width="1.3"/><ellipse cx="396.8" cy="180.5" rx="3.0" ry="4.0" transform="rotate(0 396.8 180.5)" fill="#9e9e9e" stroke="#bababa" stroke-width="1.3"/><ellipse cx="431" cy="181.1" rx="3.5" ry="3.5" transform="rotate(0 431 181.1)" fill="#a4a4a4" stroke="#c1c1c1" stroke-width="1.3"/><ellipse cx="464.4" cy="185.1" rx="3.5" ry="3.5" transform="rotate(0 464.4 185.1)" fill="#868686" stroke="#9d9d9d" stroke-width="1.3"/><ellipse cx="405.6" cy="147" rx="3.5" ry="3.0" transform="rotate(0 405.6 147)" fill="#626262" stroke="#727272" stroke-width="1.3"/><ellipse cx="447" cy="189.4" rx="3.5" ry="3.0" transform="rotate(0 447 189.4)" fill="#686868" stroke="#797979" stroke-width="1.3"/><ellipse cx="474" cy="150" rx="3.0" ry="3.5" transform="rotate(0 474 150)" fill="#686868" stroke="#797979" stroke-width="1.3"/><ellipse cx="420" cy="189" rx="3.5" ry="3.0" transform="rotate(0 420 189)" fill="#626262" stroke="#727272" stroke-width="1.3"/></g></svg><text transform="translate(397.20,16.60) scale(1.175,1)" font-size="8.3" fill="#fff" stroke="#fff" stroke-width="0.12" style="font-weight:bold;">WT</text><text transform="translate(397.40,80.80) scale(1.137,1)" font-size="9.2" fill="#fff" stroke="#fff" stroke-width="0.12" style="font-weight:bold;">WASp KO</text><text transform="translate(396.32,144.30) scale(1.177,1)" font-size="8.8" fill="#fff" stroke="#fff" stroke-width="0.12" style="font-weight:bold;font-style:italic;">lpr/lpr</text><text transform="translate(5.59,233.70) scale(0.884,1)" font-size="18.5" fill="#000" stroke="#000" stroke-width="0.12" style="font-weight:bold;">C</text><line x1="65" y1="225.2" x2="65" y2="360.4" stroke="#000" stroke-width="2"/><line x1="60.6" y1="359.4" x2="65" y2="359.4" stroke="#000" stroke-width="1.3"/><text transform="translate(55.88,363.50) scale(1.050,1)" font-size="8.7" fill="#111" stroke="#111" stroke-width="0.12" style="">0</text><line x1="60.6" y1="337.2" x2="65" y2="337.2" stroke="#000" stroke-width="1.3"/><text transform="translate(50.78,341.30) scale(1.050,1)" font-size="8.7" fill="#111" stroke="#111" stroke-width="0.12" style="">10</text><line x1="60.6" y1="315.0" x2="65" y2="315.0" stroke="#000" stroke-width="1.3"/><text transform="translate(50.78,319.10) scale(1.050,1)" font-size="8.7" fill="#111" stroke="#111" stroke-width="0.12" style="">20</text><line x1="60.6" y1="292.8" x2="65" y2="292.8" stroke="#000" stroke-width="1.3"/><text transform="translate(50.78,296.90) scale(1.050,1)" font-size="8.7" fill="#111" stroke="#111" stroke-width="0.12" style="">30</text><line x1="60.6" y1="270.6" x2="65" y2="270.6" stroke="#000" stroke-width="1.3"/><text transform="translate(50.78,274.70) scale(1.050,1)" font-size="8.7" fill="#111" stroke="#111" stroke-width="0.12" style="">40</text><line x1="60.6" y1="248.4" x2="65" y2="248.4" stroke="#000" stroke-width="1.3"/><text transform="translate(50.78,252.50) scale(1.050,1)" font-size="8.7" fill="#111" stroke="#111" stroke-width="0.12" style="">50</text><line x1="60.6" y1="226.2" x2="65" y2="226.2" stroke="#000" stroke-width="1.3"/><text transform="translate(50.78,230.30) scale(1.050,1)" font-size="8.7" fill="#111" stroke="#111" stroke-width="0.12" style="">60</text><line x1="64" y1="359.4" x2="278.8" y2="359.4" stroke="#000" stroke-width="2"/><line x1="86.9" y1="359.4" x2="86.9" y2="362" stroke="#000" stroke-width="1.3"/><text transform="translate(80.04,369.00) scale(1.120,1)" font-size="8.5" fill="#111" stroke="#111" stroke-width="0.12" style="">0-3</text><line x1="129.7" y1="359.4" x2="129.7" y2="362" stroke="#000" stroke-width="1.3"/><text transform="translate(122.92,369.00) scale(1.120,1)" font-size="8.5" fill="#111" stroke="#111" stroke-width="0.12" style="">4-6</text><line x1="172.5" y1="359.4" x2="172.5" y2="362" stroke="#000" stroke-width="1.3"/><text transform="translate(165.58,369.00) scale(1.120,1)" font-size="8.5" fill="#111" stroke="#111" stroke-width="0.12" style="">7-9</text><line x1="216.8" y1="359.4" x2="216.8" y2="362" stroke="#000" stroke-width="1.3"/><text transform="translate(204.51,369.00) scale(1.120,1)" font-size="8.5" fill="#111" stroke="#111" stroke-width="0.12" style="">10-12</text><line x1="259.0" y1="359.4" x2="259.0" y2="362" stroke="#000" stroke-width="1.3"/><text transform="translate(250.94,369.00) scale(1.120,1)" font-size="8.5" fill="#111" stroke="#111" stroke-width="0.12" style="">&gt;12</text><text transform="translate(137.84,378.90) scale(1.034,1)" font-size="10.1" fill="#000" stroke="#000" stroke-width="0.12" style="font-weight:bold;">Age (months)</text><text transform="translate(26.00,320.38) rotate(-90) scale(0.907,1.120)" font-size="9" fill="#000" stroke="#000" stroke-width="0.12" style="font-weight:bold;">% ANA &gt;1:640</text><polyline points="86.2,359.4 128.8,341.2 171.5,282.8 214.1,246.0 256.8,259.7" fill="none" stroke="#666" stroke-width="1.8"/><polyline points="86.2,359.4 128.8,303.9 171.5,324.5 214.1,336.3 256.8,319.9" fill="none" stroke="#111" stroke-width="1.9"/><path d="M82.50,361.90 L86.20,355.50 L89.90,361.90 Z" stroke="none" stroke-width="0" fill="#666" stroke-opacity="1" stroke-linejoin="miter"/><path d="M125.15,343.70 L128.85,337.30 L132.55,343.70 Z" stroke="none" stroke-width="0" fill="#666" stroke-opacity="1" stroke-linejoin="miter"/><path d="M167.80,285.31 L171.50,278.91 L175.20,285.31 Z" stroke="none" stroke-width="0" fill="#666" stroke-opacity="1" stroke-linejoin="miter"/><path d="M210.45,248.46 L214.15,242.06 L217.85,248.46 Z" stroke="none" stroke-width="0" fill="#666" stroke-opacity="1" stroke-linejoin="miter"/><path d="M253.10,262.22 L256.80,255.82 L260.50,262.22 Z" stroke="none" stroke-width="0" fill="#666" stroke-opacity="1" stroke-linejoin="miter"/><rect x="83.2" y="356.8" width="6" height="5.2" fill="#111"/><rect x="125.8" y="301.3" width="6" height="5.2" fill="#111"/><rect x="168.5" y="321.9" width="6" height="5.2" fill="#111"/><rect x="211.1" y="333.7" width="6" height="5.2" fill="#111"/><rect x="253.8" y="317.3" width="6" height="5.2" fill="#111"/><line x1="73.3" y1="231.5" x2="85.6" y2="231.5" stroke="#111" stroke-width="1.5"/><rect x="77.2" y="229.1" width="5.2" height="5" fill="#111"/><line x1="73.3" y1="240.8" x2="85.6" y2="240.8" stroke="#777" stroke-width="1.7"/><path d="M76.10,243.00 L79.60,237.00 L83.10,243.00 Z" stroke="none" stroke-width="0" fill="#777" stroke-opacity="1" stroke-linejoin="miter"/><text transform="translate(88.26,233.80) scale(0.897,1)" font-size="7.3" fill="#111" stroke="#111" stroke-width="0.12" style="">WT</text><text transform="translate(88.21,243.10) scale(0.813,1)" font-size="7.3" fill="#333" stroke="#333" stroke-width="0.12" style="">KO</text><text transform="translate(295.26,238.80) scale(0.949,1)" font-size="19" fill="#000" stroke="#000" stroke-width="0.12" style="font-weight:bold;">D</text><line x1="351" y1="240.0" x2="351" y2="353.6" stroke="#000" stroke-width="1.6"/><line x1="347.3" y1="352.4" x2="351" y2="352.4" stroke="#000" stroke-width="1.4"/><text transform="translate(324.42,358.25) scale(1.120,1)" font-size="10.2" fill="#000" stroke="#000" stroke-width="0.12" style="font-weight:bold;">0%</text><line x1="347.3" y1="330.0" x2="351" y2="330.0" stroke="#000" stroke-width="1.4"/><text transform="translate(318.03,335.90) scale(1.120,1)" font-size="10.2" fill="#000" stroke="#000" stroke-width="0.12" style="font-weight:bold;">20%</text><line x1="347.3" y1="307.7" x2="351" y2="307.7" stroke="#000" stroke-width="1.4"/><text transform="translate(318.03,313.55) scale(1.120,1)" font-size="10.2" fill="#000" stroke="#000" stroke-width="0.12" style="font-weight:bold;">40%</text><line x1="347.3" y1="285.3" x2="351" y2="285.3" stroke="#000" stroke-width="1.4"/><text transform="translate(318.03,291.20) scale(1.120,1)" font-size="10.2" fill="#000" stroke="#000" stroke-width="0.12" style="font-weight:bold;">60%</text><line x1="347.3" y1="263.0" x2="351" y2="263.0" stroke="#000" stroke-width="1.4"/><text transform="translate(318.03,268.85) scale(1.120,1)" font-size="10.2" fill="#000" stroke="#000" stroke-width="0.12" style="font-weight:bold;">80%</text><line x1="347.3" y1="240.6" x2="351" y2="240.6" stroke="#000" stroke-width="1.4"/><text transform="translate(311.70,246.50) scale(1.120,1)" font-size="10.2" fill="#000" stroke="#000" stroke-width="0.12" style="font-weight:bold;">100%</text><line x1="350.2" y1="352.9" x2="519" y2="352.9" stroke="#000" stroke-width="1.6"/><line x1="434.7" y1="352.9" x2="434.7" y2="356.6" stroke="#000" stroke-width="1.3"/><line x1="518.4" y1="352.9" x2="518.4" y2="356.6" stroke="#000" stroke-width="1.3"/><rect x="375.9" y="318.3" width="34.4" height="34.0" fill="#1e1e1e" stroke="#080808" stroke-width="1"/><rect x="460.0" y="280.2" width="33.4" height="72.1" fill="#1e1e1e" stroke="#080808" stroke-width="1"/><path d="M394.6,238.2 V233.1 H475.4 V238.2" stroke="#222" stroke-width="1.4" fill="none" /><text transform="translate(410.86,225.50) scale(0.961,1)" font-size="9.8" fill="#000" stroke="#000" stroke-width="0.12" style=""><tspan style="font-weight:bold;font-style:italic;">P</tspan><tspan style="font-weight:bold;"> = .0005</tspan></text><text transform="translate(309.80,348.18) rotate(-90) scale(1.137,1.000)" font-size="9.4" fill="#000" stroke="#000" stroke-width="0.12" style="font-weight:bold;">Percent anti-DNA (+)</text><text transform="translate(386.00,373.40) scale(1.152,1)" font-size="9.4" fill="#000" stroke="#000" stroke-width="0.12" style="font-weight:bold;">WT</text><text transform="translate(468.95,373.40) scale(1.252,1)" font-size="9.4" fill="#000" stroke="#000" stroke-width="0.12" style="font-weight:bold;">KO</text><text transform="translate(359.16,383.10) scale(1.223,1)" font-size="7.8" fill="#000" stroke="#000" stroke-width="0.12" style="font-weight:bold;">327 days, +/-83</text><text transform="translate(451.46,383.10) scale(1.224,1)" font-size="7.8" fill="#000" stroke="#000" stroke-width="0.12" style="font-weight:bold;">336 days, +/-90</text><text transform="translate(381.71,392.60) scale(1.183,1)" font-size="7.8" fill="#000" stroke="#000" stroke-width="0.12" style="font-weight:bold;">n=78</text><text transform="translate(474.79,392.60) scale(1.217,1)" font-size="7.8" fill="#000" stroke="#000" stroke-width="0.12" style="font-weight:bold;">n=48</text>
</svg></body></html>
